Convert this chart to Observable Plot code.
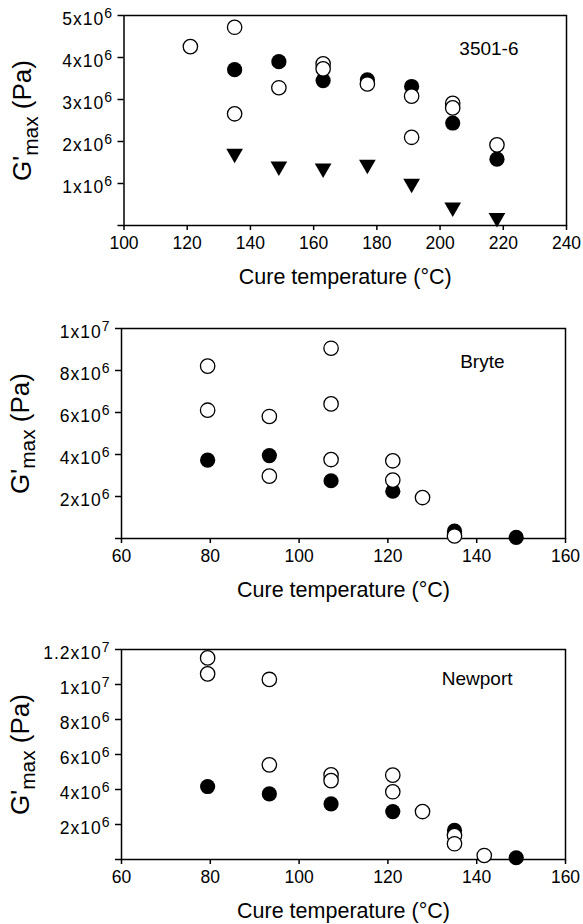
<!DOCTYPE html>
<html><head><meta charset="utf-8">
<script src="https://cdn.jsdelivr.net/npm/d3@7"></script>
<script src="https://cdn.jsdelivr.net/npm/@observablehq/plot@0.6"></script>
<style>
body{margin:0;background:#fff;}
#chart{width:583px;}
#chart svg{display:block;}
</style></head><body><div id="chart"></div>
<script>
// ---------- Panel 1: 3501-6 ----------
const p1Name = "3501-6";
const p1XTicks = [100,120,140,160,180,200,220,240];
const p1YTicks = [0,1e6,2e6,3e6,4e6,5e6];
const p1OpenT = [121,135,135,149,163,163,177,191,191,204,204,218];
const p1OpenG = [4.26e6,4.72e6,2.66e6,3.28e6,3.85e6,3.73e6,3.37e6,3.08e6,2.10e6,2.91e6,2.80e6,1.92e6];
const p1FilledT = [135,149,163,177,191,204,218];
const p1FilledG = [3.71e6,3.90e6,3.45e6,3.47e6,3.31e6,2.44e6,1.58e6];
const p1TriT = [135,149,163,177,191,204,218];
const p1TriG = [1.71e6,1.41e6,1.36e6,1.45e6,1.00e6,0.43e6,0.18e6];

// ---------- Panel 2: Bryte ----------
const p2Name = "Bryte";
const p2XTicks = [60,80,100,120,140,160];
const p2YTicks = [0,2e6,4e6,6e6,8e6,1e7];
const p2OpenT = [79.4,79.4,93.3,93.3,107.2,107.2,107.2,121.1,121.1,127.8,135];
const p2OpenG = [8.21e6,6.11e6,5.81e6,2.97e6,9.06e6,6.41e6,3.76e6,3.70e6,2.78e6,1.95e6,0.12e6];
const p2FilledT = [79.4,93.3,107.2,121.1,135,135,148.9];
const p2FilledG = [3.73e6,3.95e6,2.75e6,2.25e6,0.35e6,0.25e6,0.05e6];

// ---------- Panel 3: Newport ----------
const p3Name = "Newport";
const p3XTicks = [60,80,100,120,140,160];
const p3YTicks = [0,2e6,4e6,6e6,8e6,1e7,1.2e7];
const p3OpenT = [79.4,79.4,93.3,93.3,107.2,107.2,121.1,121.1,127.8,135,135,141.7];
const p3OpenG = [11.52e6,10.61e6,10.29e6,5.41e6,4.84e6,4.51e6,4.82e6,3.87e6,2.74e6,1.37e6,0.90e6,0.23e6];
const p3FilledT = [79.4,93.3,107.2,121.1,135,148.9];
const p3FilledG = [4.17e6,3.75e6,3.18e6,2.74e6,1.66e6,0.10e6];

const xTitle = "Cure temperature (\u00B0C)";
const yTitle = "G'max (Pa)";

function rows(T, G){ return T.map((t,i)=>({t, g:G[i]})); }
function sci(v){
  if (v === 0) return "";
  const e = Math.floor(Math.log10(v) + 1e-9);
  const m = +(v/Math.pow(10,e)).toFixed(1);
  return m + "x10^" + e;
}
const FONT = "'Liberation Sans', Arial, Helvetica, sans-serif";

function panel(cfg){
  const marks = [
    Plot.frame({stroke:"black", strokeWidth:1.5}),
    Plot.axisX({ticks: cfg.xTicks, tickSize:5, tickPadding:6.5, tickFormat: d=>String(d), label:null, strokeWidth:1.5, fontSize:17.5}),
    Plot.axisY({ticks: cfg.yTicks, tickSize:6, tickPadding:5, tickFormat: sci, label:null, strokeWidth:1.5, fontSize:17.5}),
  ];
  if (cfg.tri) marks.push(Plot.dot(cfg.tri, {x:"t", y:"g", symbol:"triangle", r:6.2, fill:"black", rotate:180}));
  marks.push(Plot.dot(cfg.filled, {x:"t", y:"g", r:7.6, fill:"black"}));
  marks.push(Plot.dot(cfg.open, {x:"t", y:"g", r:7.2, fill:"white", stroke:"black", strokeWidth:1.3}));
  marks.push(Plot.text([cfg.name], {frameAnchor:"top-right", text:d=>d, dx:cfg.nameDx, dy:cfg.nameDy, textAnchor:"end", lineAnchor:"middle", fontSize:19}));
  marks.push(Plot.text([xTitle], {frameAnchor:"bottom", text:d=>d, dy:52, textAnchor:"middle", lineAnchor:"middle", fontSize:21.5}));
  marks.push(Plot.text([yTitle], {frameAnchor:"left", text:d=>d, dx:-101, rotate:-90, textAnchor:"middle", lineAnchor:"middle", fontSize:26}));
  const svg = Plot.plot({
    width:583, height:cfg.height,
    marginTop:cfg.mt, marginBottom:cfg.mb, marginLeft:cfg.ml, marginRight:cfg.mr,
    x:{domain:cfg.xDomain},
    y:{domain:cfg.yDomain},
    style:{fontFamily:FONT, fontSize:"16px", color:"black", background:"white"},
    marks
  });
  // superscripts in y tick labels
  svg.querySelectorAll('g[aria-label="y-axis tick label"] text').forEach(t=>{
    const s = t.textContent;
    if (!s.includes("^")) return;
    const [a,b] = s.split("^");
    t.textContent = "";
    const sel = d3.select(t);
    sel.attr("letter-spacing", "1");
    sel.append("tspan").attr("dy","0.22em").text(a);
    sel.append("tspan").attr("dy","-0.5em").attr("font-size","0.8em").text(b);
  });
  // subscript in y title
  svg.querySelectorAll('text').forEach(t=>{
    if (t.textContent !== yTitle) return;
    t.textContent = "";
    const sel = d3.select(t);
    sel.append("tspan").text("G'");
    sel.append("tspan").attr("dy","0.3em").attr("font-size","0.8em").text("max");
    sel.append("tspan").attr("dy","-0.24em").text(" (Pa)");
  });
  return svg;
}

const chart = document.getElementById("chart");
chart.append(panel({
  name:p1Name, height:300, mt:15, mb:75, ml:123.5, mr:17,
  xDomain:[100,240], yDomain:[0,5e6], xTicks:p1XTicks, yTicks:p1YTicks,
  open:rows(p1OpenT,p1OpenG), filled:rows(p1FilledT,p1FilledG), tri:rows(p1TriT,p1TriG),
  nameDx:-48, nameDy:33
}));
chart.append(panel({
  name:p2Name, height:310, mt:28, mb:72, ml:121, mr:18,
  xDomain:[60,160], yDomain:[0,1e7], xTicks:p2XTicks, yTicks:p2YTicks,
  open:rows(p2OpenT,p2OpenG), filled:rows(p2FilledT,p2FilledG),
  nameDx:-61, nameDy:33
}));
chart.append(panel({
  name:p3Name, height:314, mt:39, mb:65, ml:121, mr:18,
  xDomain:[60,160], yDomain:[0,1.2e7], xTicks:p3XTicks, yTicks:p3YTicks,
  open:rows(p3OpenT,p3OpenG), filled:rows(p3FilledT,p3FilledG),
  nameDx:-53, nameDy:29
}));
</script></body></html>
